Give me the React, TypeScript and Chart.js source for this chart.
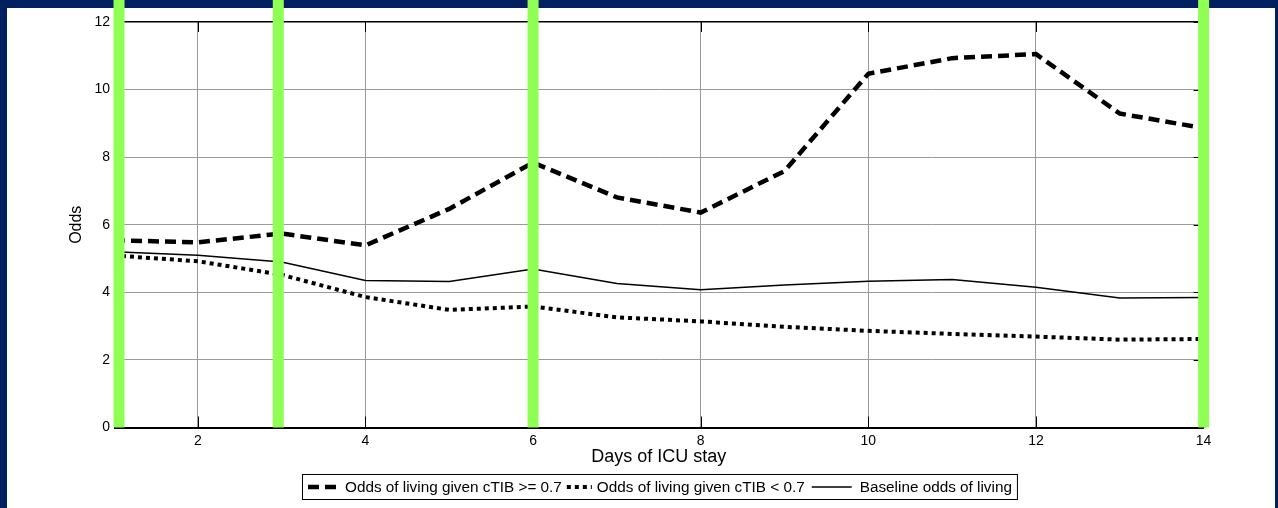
import React, { useEffect, useRef } from 'react';
import { Chart, registerables } from 'chart.js';

Chart.register(...registerables);

// ---- data ----
const days = [1, 2, 3, 4, 5, 6, 7, 8, 9, 10, 11, 12, 13, 14];
const oddsHigh = [5.54, 5.48, 5.74, 5.39, 6.47, 7.84, 6.81, 6.36, 7.59, 10.47, 10.93, 11.05, 9.29, 8.86];
const oddsLow = [5.09, 4.92, 4.52, 3.86, 3.48, 3.58, 3.26, 3.14, 2.98, 2.86, 2.77, 2.69, 2.6, 2.62];
const oddsBase = [5.2, 5.1, 4.9, 4.35, 4.32, 4.69, 4.26, 4.08, 4.22, 4.33, 4.38, 4.15, 3.83, 3.85];
const seriesLabels = [
  'Odds of living given cTIB >= 0.7',
  'Odds of living given cTIB < 0.7',
  'Baseline odds of living',
];
const greenMarks = [1.06, 2.96, 6, 14];
const xTicks = [2, 4, 6, 8, 10, 12, 14];
const yTicks = [0, 2, 4, 6, 8, 10, 12];
const xTitle = 'Days of ICU stay';
const yTitle = 'Odds';

const FONT = "'Liberation Sans', Arial, Helvetica, sans-serif";
const NAVY = '#002060';
const GREEN = '#8FFF55';

// legend geometry: [gap before sample, sample length, gap sample->text]
const LEGEND_LAYOUT = [
  [6, 30, 7],
  [5, 25, 5],
  [7, 40, 8],
];

const framePlugin = {
  id: 'frame',
  beforeDraw(chart: any) {
    const { ctx, width, height } = chart;
    ctx.save();
    ctx.fillStyle = NAVY;
    ctx.fillRect(0, 0, width, height);
    ctx.fillStyle = '#ffffff';
    ctx.fillRect(7, 8, 1268, height - 8);
    ctx.restore();
  },
  afterDatasetsDraw(chart: any) {
    const { ctx, chartArea } = chart;
    const xs = chart.scales.x;
    const ys = chart.scales.y;
    ctx.save();
    ctx.strokeStyle = '#000';
    ctx.lineWidth = 1;
    xTicks.forEach((v) => {
      const px = Math.round(xs.getPixelForValue(v)) + 0.5;
      ctx.beginPath();
      ctx.moveTo(px, chartArea.bottom);
      ctx.lineTo(px, chartArea.bottom - 11);
      ctx.moveTo(px, chartArea.top);
      ctx.lineTo(px, chartArea.top + 10);
      ctx.stroke();
    });
    yTicks.forEach((v) => {
      const py = Math.round(ys.getPixelForValue(v)) + 0.5;
      ctx.beginPath();
      ctx.moveTo(chartArea.left, py);
      ctx.lineTo(chartArea.left + 10, py);
      ctx.moveTo(chartArea.right, py);
      ctx.lineTo(chartArea.right - 10, py);
      ctx.stroke();
    });
    ctx.restore();
  },
  afterDraw(chart: any) {
    const { ctx } = chart;
    const xs = chart.scales.x;
    const ys = chart.scales.y;
    ctx.save();
    ctx.fillStyle = GREEN;
    const yb = ys.getPixelForValue(0);
    greenMarks.forEach((v) => {
      const px = xs.getPixelForValue(v);
      ctx.fillRect(px - 5.5, 0, 11, yb);
    });
    ctx.restore();

    // legend
    ctx.save();
    ctx.font = `15.3px ${FONT}`;
    ctx.textBaseline = 'middle';
    ctx.fillStyle = '#000';
    const boxLeft = 302;
    const boxTop = 474.5;
    const boxH = 25;
    const sy = boxTop + boxH / 2;
    let cursor = boxLeft;
    chart.data.datasets.forEach((ds: any, i: number) => {
      const [g0, sl, g1] = LEGEND_LAYOUT[i];
      cursor += g0;
      ctx.save();
      ctx.strokeStyle = ds.borderColor;
      ctx.lineWidth = ds.borderWidth;
      ctx.setLineDash(ds.borderDash || []);
      ctx.lineCap = 'butt';
      ctx.beginPath();
      ctx.moveTo(cursor, sy);
      ctx.lineTo(cursor + sl, sy);
      ctx.stroke();
      ctx.restore();
      cursor += sl + g1;
      ctx.fillText(ds.label, cursor, sy + 0.5);
      cursor += ctx.measureText(ds.label).width;
    });
    const boxRight = cursor + 5;
    ctx.strokeStyle = '#000';
    ctx.lineWidth = 1;
    ctx.strokeRect(boxLeft + 0.5, boxTop, boxRight - boxLeft, boxH);
    ctx.restore();
  },
};

export default function App() {
  const ref = useRef<HTMLCanvasElement | null>(null);

  useEffect(() => {
    if (!ref.current) return;
    const mk = (arr: number[]) => days.map((d, i) => ({ x: d, y: arr[i] }));
    const chart = new Chart(ref.current, {
      type: 'line',
      data: {
        datasets: [
          {
            label: seriesLabels[0],
            data: mk(oddsHigh),
            borderColor: '#000',
            borderWidth: 4.5,
            borderDash: [11, 6],
            pointRadius: 0,
            tension: 0,
            fill: false,
          },
          {
            label: seriesLabels[1],
            data: mk(oddsLow),
            borderColor: '#000',
            borderWidth: 4,
            borderDash: [4, 4],
            pointRadius: 0,
            tension: 0,
            fill: false,
          },
          {
            label: seriesLabels[2],
            data: mk(oddsBase),
            borderColor: '#000',
            borderWidth: 1.5,
            borderDash: [],
            pointRadius: 0,
            tension: 0,
            fill: false,
          },
        ],
      },
      options: {
        animation: false,
        responsive: false,
        devicePixelRatio: 1,
        layout: { padding: { left: 0, right: 74.4, top: 22, bottom: 0 } },
        plugins: { legend: { display: false }, tooltip: { enabled: false } },
        scales: {
          x: {
            type: 'linear',
            min: 1,
            max: 14,
            afterBuildTicks: (scale: any) => {
              scale.ticks = xTicks.map((v) => ({ value: v }));
            },
            afterFit: (scale: any) => {
              scale.height = 80.5;
            },
            ticks: {
              color: '#000',
              font: { family: FONT, size: 14 },
              padding: 5,
              maxRotation: 0,
              autoSkip: false,
              callback: (v: any) => String(v),
            },
            grid: {
              drawTicks: false,
              color: (c: any) => (c.tick && c.tick.value === 14 ? '#000' : '#9a9a9a'),
              lineWidth: 1,
            },
            border: { display: false },
            title: {
              display: true,
              text: xTitle,
              color: '#000',
              font: { family: FONT, size: 18 },
              padding: { top: 0, bottom: 40 },
            },
          },
          y: {
            type: 'linear',
            min: 0,
            max: 12,
            afterBuildTicks: (scale: any) => {
              scale.ticks = yTicks.map((v) => ({ value: v }));
            },
            afterFit: (scale: any) => {
              scale.width = 114;
            },
            ticks: {
              color: '#000',
              font: { family: FONT, size: 14 },
              padding: 4,
              callback: (v: any) => String(v),
            },
            grid: {
              drawTicks: false,
              color: (c: any) =>
                c.tick && (c.tick.value === 0 || c.tick.value === 12) ? '#000' : '#9a9a9a',
              lineWidth: (c: any) =>
                c.tick && c.tick.value === 0 ? 2 : c.tick && c.tick.value === 12 ? 1.5 : 1,
            },
            border: { display: true, color: '#000', width: 1 },
            title: {
              display: true,
              text: yTitle,
              color: '#000',
              font: { family: FONT, size: 16 },
              padding: { top: 67.4, bottom: 0 },
            },
          },
        },
      },
      plugins: [framePlugin],
    } as any);
    return () => chart.destroy();
  }, []);

  return (
    <div style={{ position: 'fixed', left: 0, top: 0, width: 1278, height: 508 }}>
      <canvas ref={ref} width={1278} height={508} style={{ display: 'block', width: 1278, height: 508 }} />
    </div>
  );
}
